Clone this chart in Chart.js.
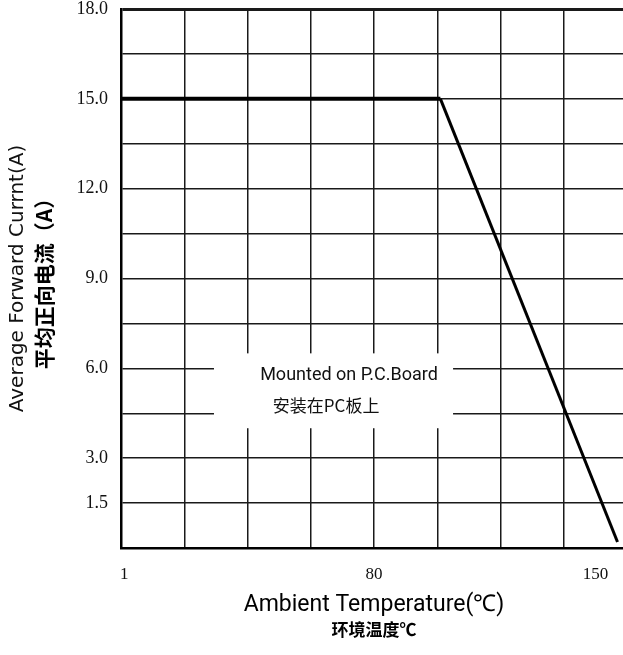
<!DOCTYPE html>
<html>
<head>
<meta charset="utf-8">
<script src="https://cdn.jsdelivr.net/npm/chart.js@4.4.1/dist/chart.umd.min.js"></script>
<style>
  html, body { margin: 0; padding: 0; background: #fff; overflow: hidden; }
  canvas { display: block; }
</style>
</head>
<body>
<canvas id="deratingChart" width="632" height="655"></canvas>
<script>
// Valores
const ambientTemp = [0, 101, 157];
const forwardCurrent = [15, 15, 0.2];

// Rótulos dos eixos
const xLabelValues = [1, 80, 150];
const yLabelValues = [18, 15, 12, 9, 6, 3, 1.5];
const noteLines = ['Mounted on P.C.Board', '安装在PC板上'];

const GRID = '#1a1a1a';

// --- Caixa de texto "Mounted on P.C.Board" ---
const notePlugin = {
    id: 'note',
    beforeDatasetsDraw(chart) {
        const { ctx, scales: { x, y } } = chart;
        const l = x.getPixelForValue(29.4), r = x.getPixelForValue(105);
        const t = y.getPixelForValue(6.5), b = y.getPixelForValue(4.0);
        ctx.save();
        ctx.fillStyle = '#fff';
        ctx.fillRect(l, t, r - l, b - t);
        ctx.fillStyle = '#111';
        ctx.textBaseline = 'middle';
        ctx.font = '18px Roboto, "Liberation Sans", sans-serif';
        ctx.fillText(noteLines[0], x.getPixelForValue(44), y.getPixelForValue(5.77));
        ctx.font = '17px "Noto Sans CJK SC", sans-serif';
        ctx.fillText(noteLines[1], x.getPixelForValue(48), y.getPixelForValue(4.77));
        ctx.restore();
    }
};

const ctx = document.getElementById('deratingChart').getContext('2d');
const chart = new Chart(ctx, {
    type: 'line',
    data: {
        datasets: [{
            data: ambientTemp.map((t, i) => ({ x: t, y: forwardCurrent[i] })),
            borderColor: '#000',
            pointRadius: 0,
            tension: 0,
            fill: false,
            segment: {
                borderWidth: c => c.p0DataIndex === 0 ? 4 : 3
            }
        }]
    },
    options: {
        responsive: false,
        animation: false,
        layout: { padding: { top: 9, right: 5, left: 0, bottom: 0 } },
        plugins: { legend: { display: false }, tooltip: { enabled: false } },
        scales: {
            xGrid: {
                type: 'linear', position: 'bottom', min: 0, max: 160, weight: 0,
                ticks: { stepSize: 20, display: false },
                grid: { color: GRID, lineWidth: 1.5, drawTicks: false },
                border: { display: true, color: '#000', width: 2.5 },
                afterFit: s => { s.height = 0; }
            },
            x: {
                type: 'linear', position: 'bottom', min: 0, max: 160, weight: 1,
                afterBuildTicks: s => { s.ticks = xLabelValues.map(v => ({ value: v })); },
                ticks: {
                    autoSkip: false, padding: 16, color: '#111',
                    font: { family: '"Liberation Serif", serif', size: 17 },
                    callback: v => String(v)
                },
                grid: { display: false, drawTicks: false },
                border: { display: false },
                title: {
                    display: true, text: 'Ambient Temperature(℃)', color: '#000',
                    font: { family: 'Roboto, "Liberation Sans", sans-serif', size: 23 },
                    padding: { top: 0, bottom: 4 }
                },
                afterFit: s => { s.height = 75; }
            },
            xCn: {
                type: 'linear', position: 'bottom', min: 0, max: 160, weight: 2,
                ticks: { display: false },
                grid: { display: false, drawTicks: false },
                border: { display: false },
                title: {
                    display: true, text: '环境温度℃', color: '#000',
                    font: { family: '"Noto Sans CJK SC", sans-serif', size: 17, weight: 'bold' },
                    padding: { top: 0, bottom: 15 }
                },
                afterFit: s => { s.height = 32; }
            },
            y: {
                type: 'linear', position: 'left', min: 0, max: 18, weight: 0,
                ticks: {
                    stepSize: 1.5, autoSkip: false, padding: 13, color: '#111',
                    font: { family: '"Liberation Serif", serif', size: 18 },
                    callback: v => yLabelValues.includes(v) ? v.toFixed(1) : ''
                },
                grid: {
                    color: GRID, drawTicks: false,
                    lineWidth: c => c.tick && c.tick.value === 18 ? 3 : 1.5
                },
                border: { display: true, color: '#000', width: 2.5 },
                title: {
                    display: true, text: '平均正向电流（A）', color: '#000',
                    font: { family: '"Noto Sans CJK SC", sans-serif', size: 21, weight: 'bold' },
                    padding: { top: 1.4, bottom: 0 }
                },
                afterFit: s => { s.width = 91; s.paddingTop = 0; s.paddingBottom = 0; }
            },
            yEn: {
                type: 'linear', position: 'left', min: 0, max: 18, weight: 1,
                ticks: { display: false },
                grid: { display: false, drawTicks: false },
                border: { display: false },
                title: {
                    display: true, text: 'Average Forward Currnt(A)', color: '#111',
                    font: { family: '"DejaVu Sans", sans-serif', size: 20 },
                    padding: { top: 6, bottom: 0 }
                },
                afterFit: s => { s.width = 30; s.paddingTop = 0; s.paddingBottom = 0; }
            }
        }
    },
    plugins: [notePlugin]
});
</script>
</body>
</html>
